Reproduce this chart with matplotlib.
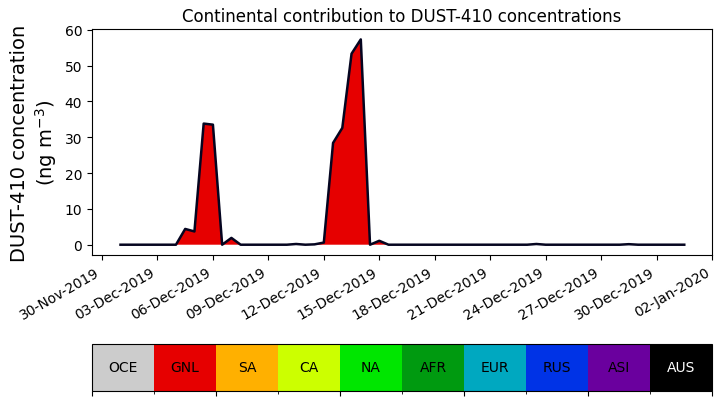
import numpy as np
import pandas as pd
import matplotlib
matplotlib.use('Agg')
import matplotlib.pyplot as plt
import matplotlib.dates as mdates
from matplotlib.colors import ListedColormap, BoundaryNorm
from matplotlib.cm import ScalarMappable

# 12-hourly values, 01-Dec-2019 00:00 .. 31-Dec-2019 12:00
dates = pd.date_range('2019-12-01 00:00', periods=62, freq='12h')

regions = ['OCE', 'GNL', 'SA', 'CA', 'NA', 'AFR', 'EUR', 'RUS', 'ASI', 'AUS']
colors = ['#cccccc', '#e60000', '#ffb000', '#ccff00', '#00e600',
          '#009a10', '#00a8c0', '#0033e6', '#6a009e', '#000000']

zero = [0.0] * 62
oce = zero
gnl = [0, 0, 0, 0, 0, 0, 0, 4.4, 3.7, 33.8, 33.5, 0, 1.9, 0, 0, 0,
       0, 0, 0, 0, 0, 0.1, 0.6, 28.4, 32.6, 53.3, 57.3, 0, 1.1, 0, 0, 0,
       0, 0, 0, 0, 0, 0, 0, 0, 0, 0, 0, 0, 0, 0, 0, 0,
       0, 0, 0, 0, 0, 0, 0, 0.15, 0, 0, 0, 0, 0, 0]
sa = zero
ca = zero
na = [0, 0, 0, 0, 0, 0, 0, 0, 0, 0, 0, 0, 0, 0, 0, 0,
      0, 0, 0, 0.2, 0, 0, 0, 0, 0, 0, 0, 0, 0, 0, 0, 0,
      0, 0, 0, 0, 0, 0, 0, 0, 0, 0, 0, 0, 0, 0.2, 0, 0,
      0, 0, 0, 0, 0, 0, 0, 0, 0, 0, 0, 0, 0, 0]
afr = zero
eur = zero
rus = zero
asi = zero
aus = zero

series = [oce, gnl, sa, ca, na, afr, eur, rus, asi, aus]
total = np.sum(np.array(series), axis=0)

fig = plt.figure(figsize=(7.21, 4.02), dpi=100)
ax = fig.add_axes([0.1276, 0.3632, 0.8599, 0.5622])
ax.stackplot(dates, series, colors=colors)
ax.plot(dates, total, color='#050520', lw=1.8)

ax.set_title('Continental contribution to DUST-410 concentrations', fontsize=12)
ax.set_ylabel('DUST-410 concentration\n(ng m$^{-3}$)', fontsize=14)
ax.set_xlim(mdates.date2num(pd.Timestamp('2019-11-29 11:00')),
            mdates.date2num(pd.Timestamp('2020-01-02 00:00')))
ax.set_ylim(-2.87, 60.2)
ticks = pd.date_range('2019-11-30', '2020-01-02', freq='3D')
ax.set_xticks(mdates.date2num(ticks))
ax.xaxis.set_major_formatter(mdates.DateFormatter('%d-%b-%Y'))
plt.setp(ax.get_xticklabels(), rotation=30, ha='right')

# colour key
cax = fig.add_axes([0.1276, 0.0249, 0.8599, 0.1169])
cmap = ListedColormap(colors)
norm = BoundaryNorm(np.arange(11), cmap.N)
cb = fig.colorbar(ScalarMappable(norm=norm, cmap=cmap), cax=cax, orientation='horizontal')
cb.set_ticks([0, 2, 4, 6, 8, 10])
cb.set_ticklabels([''] * 6)
for i, name in enumerate(regions):
    cax.text(i + 0.5, 0.5, name, ha='center', va='center', fontsize=10,
             color='white' if name == 'AUS' else 'black')

fig.savefig('out.png', dpi=100)
